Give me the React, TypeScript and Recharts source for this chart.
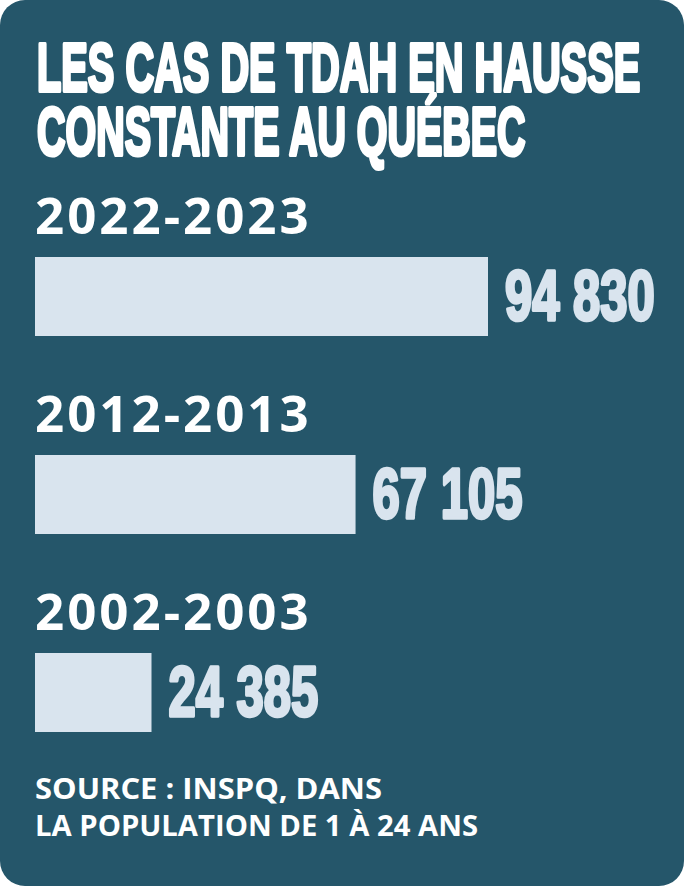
import React from 'react';
import { BarChart, Bar, XAxis, YAxis, LabelList } from 'recharts';

const periods = ['2022-2023', '2012-2013', '2002-2003'];
const cases = [94830, 67105, 24385];

const titleLines = ['LES CAS DE TDAH EN HAUSSE', 'CONSTANTE AU QUÉBEC'];
const sourceLines = ['SOURCE : INSPQ, DANS', 'LA POPULATION DE 1 À 24 ANS'];

const data = periods.map((period, i) => ({ period, cases: cases[i] }));

const BG = '#25566a';
const BAR = '#d9e4ee';
const HEAVY = '"Liberation Sans", Arial, sans-serif';
const SANS = '"Open Sans", "Noto Sans", sans-serif';

const fmt = (v: number) => String(v).replace(/\B(?=(\d{3})+(?!\d))/g, ' ');

const YearLabel = (props: any) => {
    const { x, y, value } = props;
    return (
        <text x={x} y={y - 23} fill="#fff" fontFamily={SANS} fontWeight={700} fontSize={51} letterSpacing={3}>
            {value}
        </text>
    );
};

const ValueLabel = (props: any) => {
    const { x, y, width, height, value } = props;
    const tx = x + width + 17;
    const ty = y + height / 2 + 23;
    return (
        <text
            transform={`translate(${tx},${ty}) scale(0.7,1)`}
            fill={BAR}
            stroke={BAR}
            strokeWidth={3.5}
            strokeLinejoin="round"
            fontFamily={HEAVY}
            fontWeight={700}
            fontSize={70}
        >
            {fmt(value)}
        </text>
    );
};

const App: React.FC = () => {
    return (
        <div style={{ position: 'absolute', left: 0, top: 0, width: 684, height: 886, background: '#fff' }}>
            <div style={{ position: 'absolute', inset: 0, background: BG, borderRadius: 25, overflow: 'hidden' }}>
                <BarChart
                    width={684}
                    height={886}
                    data={data}
                    layout="vertical"
                    margin={{ top: 197, right: 196, bottom: 95, left: 35 }}
                >
                    <XAxis type="number" domain={[0, 'dataMax']} hide />
                    <YAxis type="category" dataKey="period" hide />
                    <Bar dataKey="cases" fill={BAR} barSize={79} isAnimationActive={false}>
                        <LabelList dataKey="period" content={YearLabel} />
                        <LabelList dataKey="cases" content={ValueLabel} />
                    </Bar>
                </BarChart>
                <svg width={684} height={886} style={{ position: 'absolute', left: 0, top: 0, pointerEvents: 'none' }}>
                    <g fill="#fff" stroke="#fff" strokeWidth={4} strokeLinejoin="round" fontFamily={HEAVY} fontWeight={700} fontSize={68}>
                        <text transform="translate(37,91) scale(0.585,1)">{titleLines[0]}</text>
                        <text transform="translate(37,155) scale(0.58,1)">{titleLines[1]}</text>
                    </g>
                    <g fill="#fff" fontFamily={SANS} fontWeight={700} fontSize={28}>
                        <text x={35} y={799} textLength={347} lengthAdjust="spacingAndGlyphs">{sourceLines[0]}</text>
                        <text x={35} y={836} textLength={443} lengthAdjust="spacingAndGlyphs">{sourceLines[1]}</text>
                    </g>
                </svg>
            </div>
        </div>
    );
};

export default App;
